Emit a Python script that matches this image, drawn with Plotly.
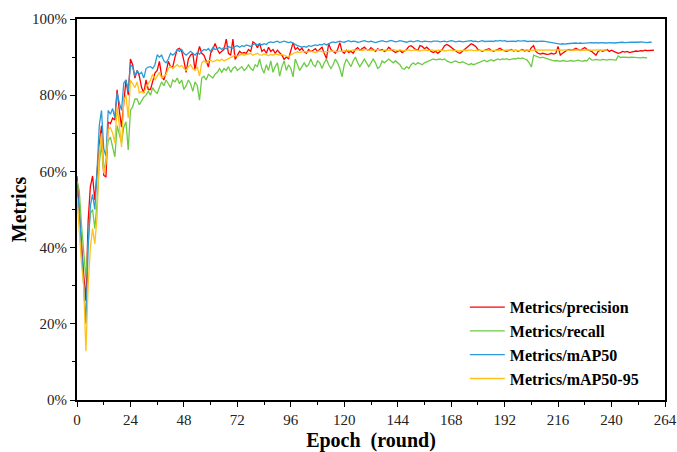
import plotly.graph_objects as go

# ---- data (percent) ----
precision = [
58.8, 50.0, 40.0, 33.0, 26.0, 47.0, 56.0, 58.8, 52.5, 60.0, 67.0, 72.0, 59.0, 58.5, 73.0, 72.5, 74.0, 73.5, 81.4, 76.0,
71.6, 78.0, 84.0, 80.0, 89.5, 88.0, 84.5, 86.5, 85.0, 82.0, 80.6, 84.0, 81.5,
81.5, 84.0, 85.8, 86.5, 88.9, 85.0, 84.0, 86.0, 88.9, 87.5, 87.4, 90.0, 92.0, 92.3, 91.5, 89.0, 86.0, 89.5, 90.5, 91.0,
86.6, 90.5, 92.8, 91.0, 90.5, 89.0, 87.4, 91.0, 92.0, 93.6, 92.0, 91.0, 91.5, 92.0, 94.7, 91.0, 90.5, 94.7, 89.4, 90.6,
91.5, 91.0, 91.2, 91.0, 92.0, 91.5, 94.0, 93.5, 92.5, 93.6,
91.5, 92.0, 91.0, 92.6, 91.5, 92.0, 91.0, 91.8, 91.2, 90.5, 89.4, 90.0, 89.6, 91.5, 93.8, 92.0, 92.5, 91.8, 92.3, 91.4,
91.0, 92.0, 91.5, 91.8, 92.2, 91.5, 92.0, 92.6, 91.0, 89.6, 93.5, 92.0, 91.5, 91.0, 92.0, 93.8, 91.5, 91.0, 91.8, 91.2,
91.5, 91.0, 92.0, 92.5, 91.8, 92.3, 92.6, 92.0, 91.8, 92.5, 92.0, 91.5, 92.2, 91.8, 92.0, 91.5, 91.8, 92.6, 92.0, 91.5,
91.2, 91.5, 91.8, 91.2, 91.5, 92.0, 92.8, 93.0, 92.5, 92.0, 91.8, 93.0, 92.8, 92.2, 92.6, 92.0, 91.5, 91.2, 91.5, 91.0,
91.5, 92.0, 93.0, 93.3, 93.0, 92.5, 92.0, 91.5, 91.2, 91.0, 91.5, 92.0, 92.5, 93.0, 93.5, 93.2, 92.8, 92.0, 91.8, 91.5,
91.8, 92.0, 92.2, 91.8, 91.5, 91.8, 92.0, 92.3, 91.8, 91.6, 91.5, 91.8, 92.0, 91.6, 91.8, 91.5, 91.8, 92.0, 91.6, 91.8,
91.5, 92.5, 93.0, 91.5, 91.0, 90.8, 91.0, 90.8, 90.7, 90.8, 91.0, 90.8, 91.0, 92.8, 90.5, 91.0, 91.5, 91.8, 92.0, 91.8,
92.0, 92.3, 92.0, 91.8, 92.2, 92.5, 92.0, 91.8, 91.5, 91.0, 90.5, 91.5, 91.8, 91.5, 91.8, 92.0, 91.5, 91.8, 91.5, 91.3,
91.0, 91.2, 91.5, 91.3, 91.5, 91.2, 91.4, 91.5, 91.6, 91.5, 91.7, 91.6, 91.8, 91.7, 91.8, 91.8, 91.8,
]

recall = [
57.5, 55.0, 46.0, 38.0, 32.0, 41.0, 49.0, 50.0, 45.0, 52.0, 62.0, 67.0, 60.0, 63.0, 68.0, 69.0, 66.0, 63.8, 72.0, 70.0,
67.5, 71.6, 73.0, 65.6, 76.0, 77.0, 79.0, 79.0, 77.5, 78.5, 79.5, 80.0, 81.0,
80.0, 82.0, 81.0, 80.5, 82.0, 83.5, 82.5, 84.0, 83.0, 82.0, 84.0, 83.5, 84.5, 83.0, 84.0, 81.5, 82.5, 84.0, 83.0, 81.0,
83.5, 82.5, 78.7, 84.5, 85.0, 84.0, 85.5, 85.0, 84.5, 85.5, 86.0, 87.0, 86.0, 87.0, 86.5, 87.5, 86.0, 87.0, 87.5, 86.5,
87.0, 87.5, 86.5, 87.0, 88.0, 87.0, 86.5, 88.0, 87.5, 89.5,
87.0, 85.8, 88.0, 86.5, 89.0, 86.0, 87.5, 88.5, 85.0, 87.5, 89.0, 86.5, 88.0, 87.0, 84.8, 89.5, 88.0, 86.5, 87.5, 88.5,
87.5, 88.0, 89.5, 88.0, 87.5, 89.0, 88.5, 87.0, 88.5, 89.5, 88.0, 87.0, 88.0, 89.5, 88.5, 87.0, 84.8, 88.0, 89.5, 88.5,
87.5, 89.0, 90.0, 88.5, 87.5, 88.5, 89.5, 88.5, 87.5, 88.5, 89.5, 88.5, 87.0, 87.5, 89.0, 88.5, 89.0, 89.5,
89.0, 88.5, 89.0, 88.5, 88.0, 87.0, 86.8, 87.5, 87.0, 88.0, 88.5, 88.0, 88.5, 88.3, 88.0, 88.5, 88.8, 89.0, 89.3, 89.5,
89.3, 89.5, 89.5, 89.3, 89.5, 89.0, 88.8, 88.5, 88.8, 89.0, 88.7, 88.5, 88.8, 88.5, 88.2, 88.0, 88.3, 88.0, 88.2, 88.5,
88.8, 89.0, 89.2, 88.8, 89.0, 89.3, 89.0, 89.3, 89.5, 89.3, 89.5, 89.4, 89.6, 89.3, 89.5, 89.6, 89.5, 89.8, 89.6, 89.8,
89.5, 89.3, 88.5, 87.4, 90.5, 90.2, 90.0, 89.8, 90.0, 89.8, 89.6, 89.5, 89.2, 89.0, 89.1, 89.0, 88.9, 89.1, 89.0, 88.9,
89.0, 89.1, 88.9, 89.0, 89.2, 89.0, 88.9, 89.1, 89.0, 89.8, 89.3, 89.2, 89.4, 89.3, 89.2, 89.4, 89.3, 89.2, 89.4, 89.3,
89.3, 89.2, 90.3, 89.9, 90.0, 89.9, 90.0, 89.9, 90.0, 89.9, 90.0, 89.9, 89.8, 89.9, 89.8, 89.8,
]

map50 = [
56.0, 50.0, 40.0, 30.0, 20.0, 40.0, 51.0, 54.0, 50.0, 60.0, 72.0, 76.0, 66.0, 64.0, 76.0, 75.0, 76.5, 74.0, 80.6, 78.0,
76.0, 83.2, 84.0, 81.0, 88.0, 87.4, 85.0, 86.5, 85.5, 86.0, 84.5, 87.0, 87.4,
87.5, 87.0, 88.0, 90.6, 90.0, 90.5, 89.0, 88.5, 89.5, 91.0, 90.5, 91.0, 92.0, 91.5, 92.0, 91.0, 90.5, 91.0, 91.5, 91.0,
90.5, 91.2, 90.8, 91.5, 92.0, 91.8, 92.2, 91.5, 92.5, 92.0, 92.2, 92.5, 92.0, 92.5, 92.2, 92.8, 92.5, 92.3, 92.8, 93.0,
92.6, 93.0, 92.8, 93.2, 93.0, 92.8, 93.3, 93.5, 93.2, 93.5,
93.2, 93.5, 93.3, 93.8, 94.0, 93.8, 94.0, 94.2, 93.8, 94.0, 94.2, 94.0, 93.8, 94.0, 93.6, 93.2, 93.0, 92.8,
92.6, 92.8, 92.6, 93.0, 92.8, 93.0, 93.2, 93.0, 93.3, 93.2, 93.5, 93.2, 93.6, 93.8, 94.0, 93.8,
94.0, 94.2, 94.0, 93.9, 94.1, 94.3, 94.0, 94.2, 94.1, 93.9, 94.0, 94.2, 94.3, 94.1, 94.0, 94.2, 94.0, 93.8, 94.0, 94.2,
94.3, 94.1, 94.0, 94.2, 94.4, 94.2, 94.0, 94.1, 94.3, 94.2, 94.0, 93.9, 94.1, 94.2, 94.0, 94.2, 94.3, 94.1, 94.0, 94.2,
94.1, 93.9, 94.0, 94.2, 94.3, 94.2, 94.0, 94.1, 94.2, 94.0, 94.1, 94.3, 94.2, 94.0, 94.1, 94.2, 94.0, 94.1, 94.2,
94.2, 94.3, 94.1, 94.2, 94.0, 94.2, 94.3, 94.1, 94.2, 94.3, 94.2, 94.1, 94.3, 94.2, 94.4, 94.2, 94.3, 94.1, 94.2, 94.3,
94.2, 94.1, 94.3, 94.2, 94.2, 94.3, 94.1, 94.2, 94.3, 94.2, 94.1, 94.2, 94.3, 94.2, 94.1, 94.0, 93.9, 93.8, 93.7, 93.6,
93.5, 93.4, 93.5, 93.4, 93.5, 93.6, 93.5, 93.6, 93.7, 93.6, 93.7, 93.6, 93.7, 93.8, 93.7, 93.8, 93.7, 93.8, 93.7, 93.8,
93.8, 93.7, 93.8, 93.9, 93.8, 93.7, 93.8, 93.9, 93.8, 93.9, 93.8, 93.9, 93.8, 93.9, 93.9, 93.8, 93.9, 94.0, 93.9, 93.9,
93.8, 93.9, 93.9,
]

map50_95 = [
53.0, 43.0, 36.0, 30.0, 12.8, 30.0, 40.0, 45.0, 41.0, 48.0, 65.0, 70.0, 59.5, 62.0, 71.0, 71.5, 70.0, 67.5, 77.0, 72.0,
66.4, 78.7, 80.0, 74.0,
84.0, 83.0, 82.0, 83.5, 80.6, 81.0, 80.6, 82.0, 83.0, 84.0, 85.5, 84.0, 85.0, 86.0, 84.5, 85.0, 85.5, 87.0, 87.5, 87.0,
87.5, 88.0, 87.5, 87.8, 87.0, 86.5, 87.5, 88.0, 87.0, 86.5, 87.5, 85.0, 88.5, 89.0, 88.5, 89.0, 89.2, 88.8, 89.0, 89.3,
89.0, 89.5, 89.0, 89.3, 89.5, 89.8, 90.0, 90.5, 90.2, 90.5, 90.8, 90.5, 90.6, 90.8, 91.0, 90.5, 90.8, 91.0, 90.6,
90.5, 90.8, 90.6, 90.4, 90.7, 90.5, 90.8, 90.6, 90.5, 90.7, 90.4, 90.2, 90.0,
90.6, 91.0, 91.2, 91.4, 91.2, 91.4, 91.5, 91.3, 91.4, 91.6, 91.4, 91.2, 91.5, 91.6, 91.4, 91.3, 91.5, 91.4, 91.6, 91.5,
91.3, 91.4, 91.6, 91.5, 91.7, 91.6, 91.8,
91.7, 91.9, 91.8, 92.0, 91.8, 91.7, 91.9, 92.0, 91.8, 91.9, 91.7, 91.8, 92.0, 91.9, 91.7, 91.8, 91.9, 91.7, 91.8, 92.0,
91.8, 91.7, 91.9, 91.8, 91.6, 91.8, 91.9, 91.7, 91.8, 91.9, 91.7, 91.6, 91.8, 91.9, 91.8, 91.7, 91.9, 91.8, 91.7, 91.8,
91.9, 91.8, 91.6, 91.7, 91.8, 91.9, 91.7, 91.8, 91.6, 91.7, 91.9, 91.8, 91.7, 91.8, 91.9, 91.7, 91.8, 91.9, 91.8, 91.7,
91.8, 91.9, 91.8, 91.7, 91.8, 91.9, 91.8, 91.7, 91.8, 91.9, 92.0, 91.9, 91.8, 91.9, 91.8, 91.7, 91.8, 91.9, 91.8, 91.9,
91.8, 91.7, 91.8, 91.9, 91.8, 91.9, 91.8, 91.9, 92.0, 91.9, 91.8, 91.9, 91.8, 91.9, 91.8, 91.9, 91.8, 91.9, 91.8, 91.9,
91.8, 91.9, 91.8, 91.9, 91.8, 91.9, 91.8, 91.9, 91.8, 91.9, 91.8, 91.9, 91.8, 91.9, 91.8, 91.9,
]

names = ["Metrics/precision", "Metrics/recall", "Metrics/mAP50", "Metrics/mAP50-95"]
colors = ["#FF0000", "#6CCB44", "#2A9AD8", "#FFC21A"]
series = [precision, recall, map50, map50_95]

x_ticks = [0, 24, 48, 72, 96, 120, 144, 168, 192, 216, 240, 264]
y_ticks = [0, 20, 40, 60, 80, 100]
y_tick_labels = ["0%", "20%", "40%", "60%", "80%", "100%"]

FONT = "Liberation Serif, Times New Roman, serif"

fig = go.Figure()
for name, col, vals in zip(names, colors, series):
    fig.add_trace(go.Scatter(
        x=list(range(len(vals))), y=vals, mode="lines", name=name,
        line=dict(color=col, width=1.3),
    ))

axis_common = dict(
    showline=True, linecolor="black", linewidth=2, mirror=True,
    ticks="outside", ticklen=5, tickwidth=1, tickcolor="black",
    showgrid=False, zeroline=False, automargin=False,
    tickfont=dict(family=FONT, size=15, color="#222"),
)

fig.update_xaxes(
    range=[0, 264], tickvals=x_ticks,
    minor=dict(dtick=12, tick0=0, ticks="outside", ticklen=3, tickcolor="black"),
    title=dict(text="Epoch  (round)", font=dict(family=FONT, size=20, color="black", weight="bold"), standoff=8),
    **axis_common,
)
fig.update_yaxes(
    range=[0, 100], tickvals=y_ticks, ticktext=y_tick_labels,
    minor=dict(dtick=10, tick0=0, ticks="outside", ticklen=3, tickcolor="black"),
    title=dict(text="Metrics", font=dict(family=FONT, size=20, color="black", weight="bold"), standoff=0),
    **axis_common,
)

fig.update_layout(
    width=677, height=452,
    margin=dict(l=77, r=12, t=19, b=52),
    plot_bgcolor="white", paper_bgcolor="white",
    legend=dict(
        x=0.964, y=0.01, xanchor="right", yanchor="bottom",
        font=dict(family=FONT, size=16, color="black", weight="bold"),
        bgcolor="rgba(255,255,255,0)", tracegroupgap=0, itemwidth=35,
    ),
)

fig.write_html("out.html")
